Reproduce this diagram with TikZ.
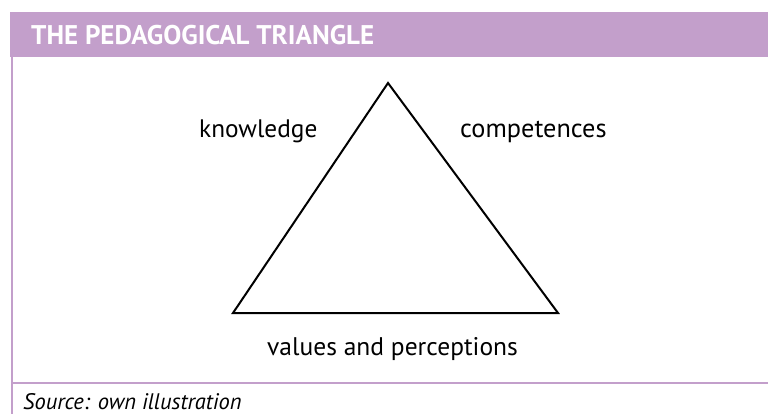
\documentclass[tikz,border=0pt]{standalone}
\usepackage{fontspec}
\setmainfont{PT Sans}
\definecolor{lilac}{RGB}{195,159,203}
\begin{document}
\begin{tikzpicture}[x=1pt,y=-1pt,
  frameline/.style={draw=lilac,line width=2pt},
  label/.style={inner sep=0pt,anchor=base west},
  tri/.style={draw=black,line width=2pt,line join=miter}]
\useasboundingbox (0,0) rectangle (768,414);
\fill[lilac] (10,12) rectangle (768,57);
\node[inner sep=0pt,anchor=base west,text=white,font=\fontsize{27}{30}\selectfont\bfseries] (title) at (31,44.5) {THE PEDAGOGICAL TRIANGLE};
\draw[frameline] (12,57) -- (12,414);
\draw[frameline] (12,383) -- (768,383);
\coordinate (top) at (388,83);
\coordinate (bl) at (233,313);
\coordinate (br) at (558,313);
\draw[tri] (top) -- (br) -- (bl) -- cycle;
\node[label,font=\fontsize{25.3}{28}\selectfont] (know) at (199,138) {knowledge};
\node[label,font=\fontsize{26.3}{28}\selectfont] (comp) at (460,138) {competences};
\node[label,font=\fontsize{25.5}{28}\selectfont] (vals) at (267,355) {values and perceptions};
\node[inner sep=0pt,anchor=base west,font=\fontsize{22.5}{25}\selectfont\itshape] (src) at (23,409) {Source: own illustration};
\end{tikzpicture}
\end{document}
